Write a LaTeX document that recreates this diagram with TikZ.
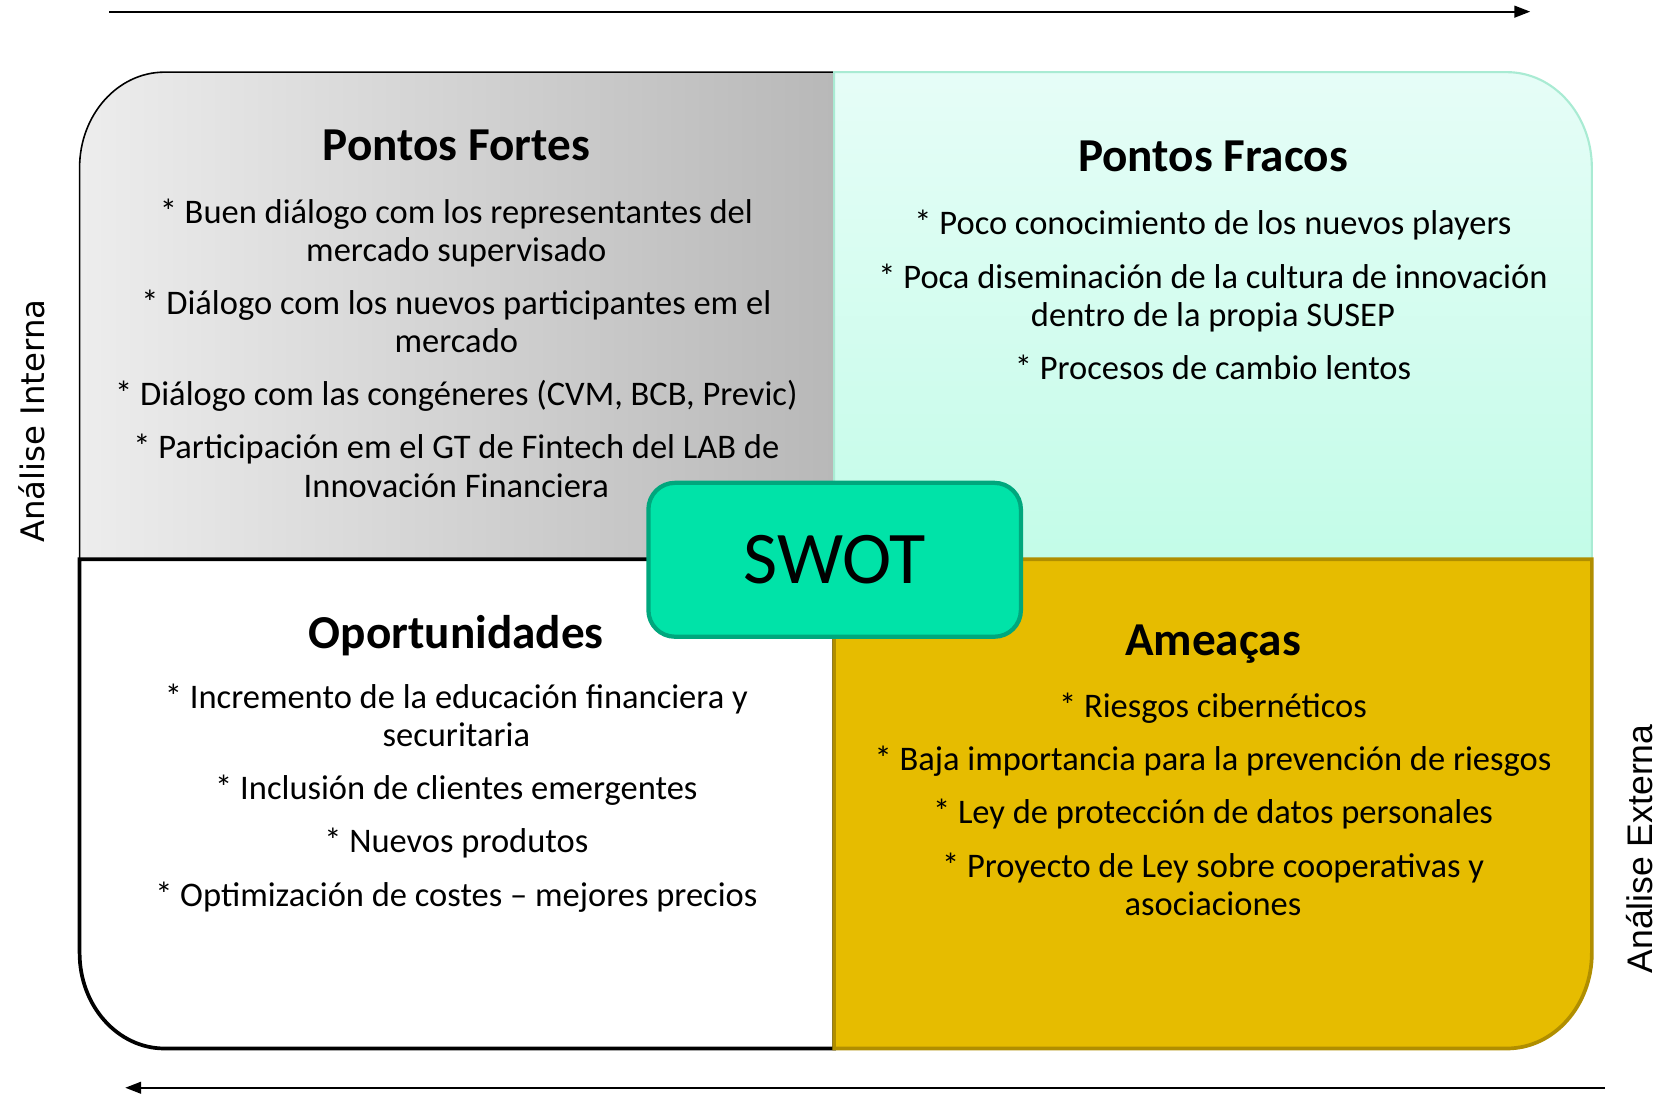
\documentclass[tikz,border=0pt]{standalone}
\usepackage{fontspec}
\setmainfont{Carlito}
\newfontfamily\internafont{DejaVu Sans}
\newfontfamily\externafont{Liberation Sans}
\usetikzlibrary{arrows.meta,positioning}
\definecolor{fortesL}{HTML}{EDEDED}
\definecolor{fortesR}{HTML}{B8B8B8}
\definecolor{fracosT}{HTML}{E6FDF7}
\definecolor{fracosB}{HTML}{C3FCE8}
\definecolor{fracosLine}{HTML}{A9EBD3}
\definecolor{ameacasFill}{HTML}{E6BC00}
\definecolor{ameacasLine}{HTML}{B08E00}
\definecolor{swotFill}{HTML}{00E3A8}
\definecolor{swotLine}{HTML}{00A77D}
\begin{document}
\begin{tikzpicture}[x=1pt,y=1pt]
    \tikzstyle{titletext}=[font=\fontsize{44.5}{50}\selectfont\bfseries, inner sep=0pt]
    \tikzstyle{bodytext}=[align=center, font=\fontsize{32.5}{36}\selectfont, inner sep=0pt]
    \tikzstyle{sidetext}=[rotate=90, inner sep=0pt]
    \tikzstyle{axisarrow}=[line width=2pt, -{Triangle[length=15pt,width=11pt]}]
    \useasboundingbox (0,0) rectangle (1568,1032);

    % quadrants
    \shade[left color=fortesL, right color=fortesR, draw=black, line width=1.5pt]
        (786,505) -- (75,505) -- (75,874)
        arc[start angle=180, end angle=90, x radius=80, y radius=90] -- (786,964) -- cycle;
    \shade[top color=fracosT, bottom color=fracosB, draw=fracosLine, line width=2pt]
        (786,505) -- (786,964) -- (1420,964)
        arc[start angle=90, end angle=0, x radius=80, y radius=90] -- (1500,505) -- cycle;
    \filldraw[fill=white, draw=black, line width=3.5pt]
        (786,505) -- (75,505) -- (75,134)
        arc[start angle=180, end angle=270, x radius=80, y radius=90] -- (786,44) -- cycle;
    \filldraw[fill=ameacasFill, draw=ameacasLine, line width=3.5pt]
        (786,505) -- (1500,505) -- (1500,134)
        arc[start angle=0, end angle=-90, x radius=80, y radius=90] -- (786,44) -- cycle;

    \node[rectangle, rounded corners=25pt, fill=swotFill, draw=swotLine, line width=4pt,
          minimum width=351pt, minimum height=145pt, font=\fontsize{70}{74}\selectfont]
          (swot) at (786.5,504.5) {SWOT};

    % titles
    \node[titletext] (fortes) at (430,895) {Pontos Fortes};
    \node[titletext] (fracos) at (1143,885) {Pontos Fracos};
    \node[titletext] (oport)  at (430,433) {Oportunidades};
    \node[titletext] (ameacas) at (1143,425) {Ameaças};

    % lists
    \node[bodytext] (fortesList) at (430,704) {%
        * Buen diálogo com los representantes del\\ mercado supervisado\\[14pt]
        * Diálogo com los nuevos participantes em el\\ mercado\\[14pt]
        * Diálogo com las congéneres (CVM, BCB, Previc)\\[14pt]
        * Participación em el GT de Fintech del LAB de\\ Innovación Financiera};
    \node[bodytext] (fracosList) at (1143,754) {%
        * Poco conocimiento de los nuevos players\\[14pt]
        * Poca diseminación de la cultura de innovación\\ dentro de la propia SUSEP\\[14pt]
        * Procesos de cambio lentos};
    \node[bodytext] (oportList) at (430,280) {%
        * Incremento de la educación financiera y\\ securitaria\\[14pt]
        * Inclusión de clientes emergentes\\[14pt]
        * Nuevos produtos\\[14pt]
        * Optimización de costes – mejores precios};
    \node[bodytext] (ameacasList) at (1143,274) {%
        * Riesgos cibernéticos\\[14pt]
        * Baja importancia para la prevención de riesgos\\[14pt]
        * Ley de protección de datos personales\\[14pt]
        * Proyecto de Ley sobre cooperativas y\\ asociaciones};

    % axes
    \node[sidetext, font=\internafont\fontsize{30.5}{36}\selectfont] (interna) at (30,635) {Análise Interna};
    \node[sidetext, font=\externafont\fontsize{33.5}{40}\selectfont] (externa) at (1545,232) {Análise Externa};
    \coordinate (topStart) at (103,1021);
    \coordinate (topEnd)   at (1442,1021);
    \coordinate (botStart) at (1512,7);
    \coordinate (botEnd)   at (118,7);
    \draw[axisarrow] (topStart) -- (topEnd);
    \draw[axisarrow] (botStart) -- (botEnd);
\end{tikzpicture}
\end{document}
